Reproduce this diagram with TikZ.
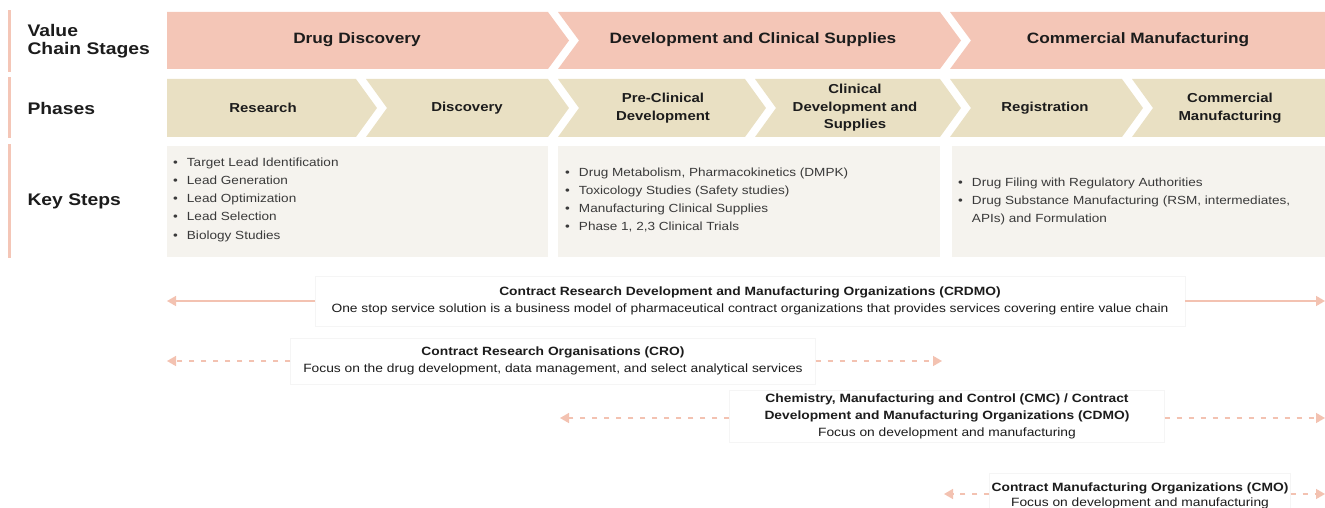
\documentclass[tikz,border=0pt]{standalone}
\usepackage{fontspec}
\setmainfont{Liberation Sans}[FakeStretch=1.15]
\usepackage{tikz}
\usetikzlibrary{arrows.meta,positioning}

\definecolor{stagepink}{HTML}{F4C6B7}
\definecolor{phasebeige}{HTML}{E9E0C3}
\definecolor{stepgray}{HTML}{F5F3EE}
\definecolor{arrowpink}{HTML}{F3C2B1}
\definecolor{txtdark}{HTML}{1C1C1C}
\definecolor{txtgray}{HTML}{3A3A3A}

\begin{document}
\begin{tikzpicture}[x=1pt,y=-1pt,
	rowlabel/.style={anchor=west,align=left,font=\fontsize{16.8}{18}\selectfont\bfseries,text=txtdark},
	stagetext/.style={align=center,font=\fontsize{15}{17}\selectfont\bfseries,text=txtdark},
	phasetext/.style={align=center,font=\fontsize{13}{17.5}\selectfont\bfseries,text=txtdark},
	steplist/.style={anchor=north west,inner sep=0pt,font=\fontsize{11.8}{18.3}\selectfont,text=txtgray},
	orgbox/.style={draw=black!4,fill=white,align=center,inner sep=2pt,text=txtdark,font=\fontsize{12}{17}\selectfont},
	orgarrow/.style={draw=arrowpink,line width=1.5pt,-{Triangle[length=9pt,width=10pt]}},
	orgdash/.style={orgarrow,dash pattern=on 5pt off 7pt}]
	\useasboundingbox (0,0) rectangle (1325,508);
	% row labels
	\foreach \ya/\yb in {10/72,77/138,144/258}
		\fill[stagepink] (8,\ya) rectangle (10.5,\yb);
	\node[rowlabel](vcs) at (24,41){Value\\Chain Stages};
	\node[rowlabel](pha) at (24,108){Phases};
	\node[rowlabel](kst) at (24,201){Key Steps};
	% value chain stages
	\foreach \l/\r/\n in {167/548/0,558/940/21,950/1325/21}
		\fill[stagepink] (\l,12) -- (\r,12) -- (\r+21,40.5) -- (\r,69) -- (\l,69) -- (\l+\n,40.5) -- cycle;
	\node[stagetext](dd) at (357,40){Drug Discovery};
	\node[stagetext](dcs) at (753,40){Development and Clinical Supplies};
	\node[stagetext](cm) at (1138,40){Commercial Manufacturing};
	% phases
	\foreach \l/\r/\n in {167/356/0,366/548/21,558/745/21,755/940/21,950/1122/21,1132/1325/21}
		\fill[phasebeige] (\l,79) -- (\r,79) -- (\r+21,108) -- (\r,137) -- (\l,137) -- (\l+\n,108) -- cycle;
	\node[phasetext](res) at (263,108){Research};
	\node[phasetext](dis) at (467,108){Discovery};
	\node[phasetext](pcd) at (663,108){Pre-Clinical\\Development};
	\node[phasetext](cds) at (855,108){Clinical\\Development and\\Supplies};
	\node[phasetext](reg) at (1045,108){Registration};
	\node[phasetext](cmf) at (1230,108){Commercial\\Manufacturing};
	% key steps
	\fill[stepgray] (167,146) rectangle (548,257);
	\fill[stepgray] (558,146) rectangle (940,257);
	\fill[stepgray] (952,146) rectangle (1325,257);
	\node[steplist](ks1) at (173,153){\begin{tabular}{@{}l@{\hspace{9pt}}l@{}}
		\textbullet & Target Lead Identification\\
		\textbullet & Lead Generation\\
		\textbullet & Lead Optimization\\
		\textbullet & Lead Selection\\
		\textbullet & Biology Studies
	\end{tabular}};
	\node[steplist](ks2) at (565,163){\begin{tabular}{@{}l@{\hspace{9pt}}l@{}}
		\textbullet & Drug Metabolism, Pharmacokinetics (DMPK)\\
		\textbullet & Toxicology Studies (Safety studies)\\
		\textbullet & Manufacturing Clinical Supplies\\
		\textbullet & Phase 1, 2,3 Clinical Trials
	\end{tabular}};
	\node[steplist](ks3) at (958,173){\begin{tabular}{@{}l@{\hspace{9pt}}l@{}}
		\textbullet & Drug Filing with Regulatory Authorities\\
		\textbullet & Drug Substance Manufacturing (RSM, intermediates,\\
		 & APIs) and Formulation
	\end{tabular}};
	% organisations
	\node[orgbox,minimum width=870pt,minimum height=50pt](crdmo) at (750,301){%
		\textbf{Contract Research Development and Manufacturing Organizations (CRDMO)}\\
		One stop service solution is a business model of pharmaceutical contract organizations that provides services covering entire value chain};
	\node[orgbox,minimum width=525pt,minimum height=46pt](cro) at (553,361){%
		\textbf{Contract Research Organisations (CRO)}\\
		Focus on the drug development, data management, and select analytical services};
	\node[orgbox,minimum width=435pt,minimum height=52pt](cdmo) at (947,416){%
		\textbf{Chemistry, Manufacturing and Control (CMC) / Contract}\\
		\textbf{Development and Manufacturing Organizations (CDMO)}\\
		Focus on development and manufacturing};
	\node[orgbox,minimum width=300pt,minimum height=46pt,font=\fontsize{12}{15}\selectfont](cmo) at (1140,496){%
		\textbf{Contract Manufacturing Organizations (CMO)}\\
		Focus on development and manufacturing};
	\coordinate (crdmoL) at (167,301);
	\coordinate (crdmoR) at (1325,301);
	\coordinate (croL) at (167,361);
	\coordinate (croR) at (942,361);
	\coordinate (cdmoL) at (560,418);
	\coordinate (cdmoR) at (1325,418);
	\coordinate (cmoL) at (944,494);
	\coordinate (cmoR) at (1325,494);
	\draw[orgarrow](crdmo.west) -- (crdmoL);
	\draw[orgarrow](crdmo.east) -- (crdmoR);
	\draw[orgdash](cro.west) -- (croL);
	\draw[orgdash](cro.east) -- (croR);
	\draw[orgdash](cdmo.west |- cdmoL) -- (cdmoL);
	\draw[orgdash](cdmo.east |- cdmoR) -- (cdmoR);
	\draw[orgdash](cmo.west |- cmoL) -- (cmoL);
	\draw[orgdash](cmo.east |- cmoR) -- (cmoR);
\end{tikzpicture}
\end{document}
